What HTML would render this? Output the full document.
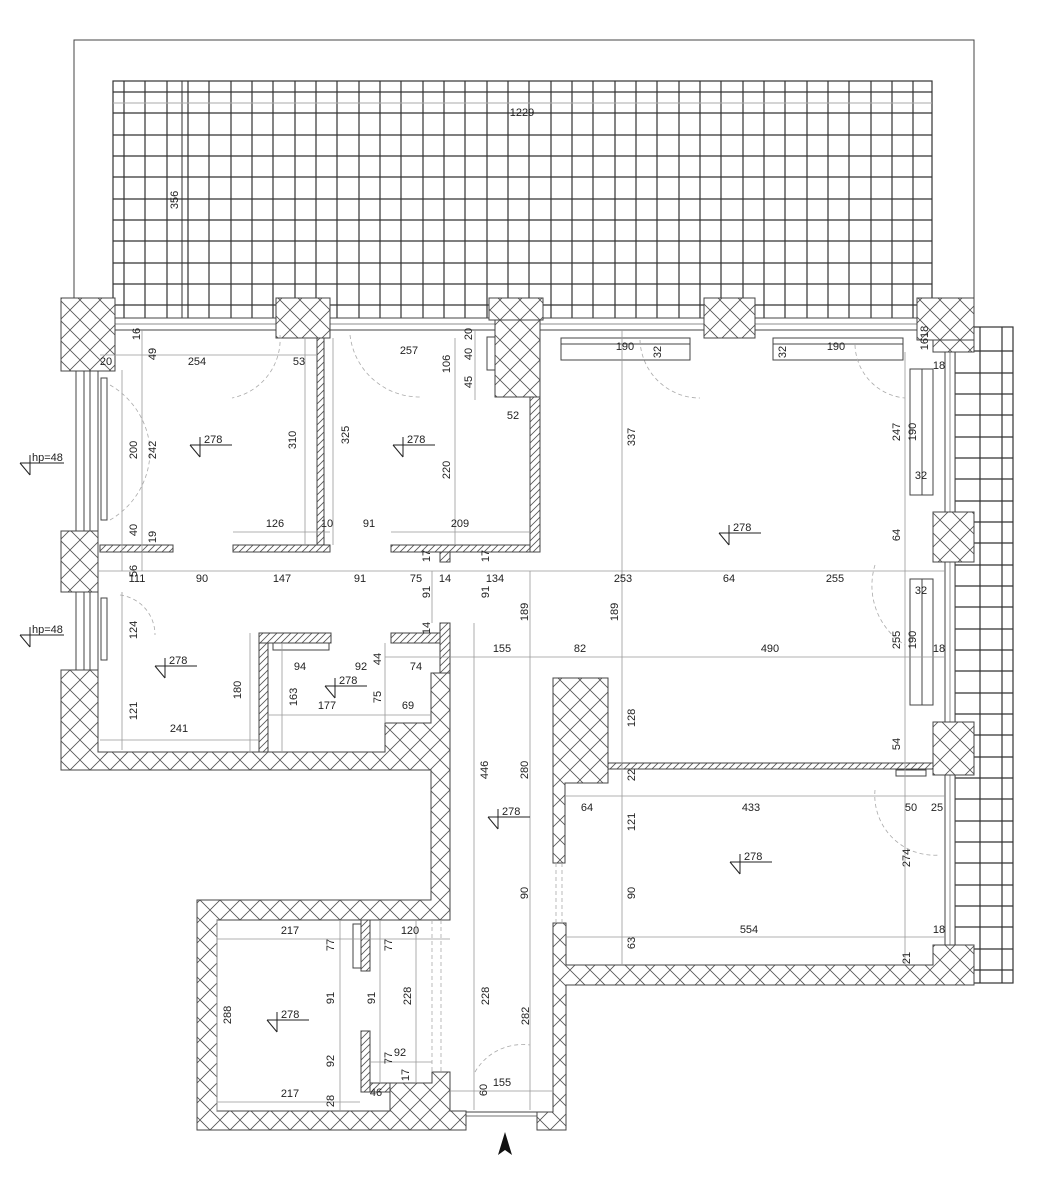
<!DOCTYPE html>
<html><head><meta charset="utf-8"><style>
html,body{margin:0;padding:0;background:#fff}
svg{display:block}
text{font-family:"Liberation Sans",sans-serif;font-size:11px;fill:#222}
.v{text-anchor:middle;dominant-baseline:central}
</style></head><body>
<svg width="1063" height="1200" viewBox="0 0 1063 1200" xmlns="http://www.w3.org/2000/svg">
<defs>
<pattern id="ch" width="20" height="20" patternUnits="userSpaceOnUse">
<rect width="20" height="20" fill="#fff"/>
<path d="M0,0L20,20M20,0L0,20" stroke="#555" stroke-width="0.8"/>
</pattern>
<pattern id="dh" width="7" height="7" patternUnits="userSpaceOnUse">
<rect width="7" height="7" fill="#fff"/>
<path d="M0,7L7,0M-2,2L2,-2M5,9L9,5" stroke="#555" stroke-width="0.8"/>
</pattern>
</defs>

<path d="M74,300V40H974V300" fill="none" stroke="#444" stroke-width="1"/>
<rect x="113" y="81" width="819" height="240" fill="#fff" stroke="#333" stroke-width="1.2"/>
<path stroke="#333" stroke-width="1.2" fill="none" d="M124,81V321M145,81V321M167,81V321M188,81V321M209,81V321M231,81V321M252,81V321M273,81V321M295,81V321M316,81V321M337,81V321M359,81V321M380,81V321M401,81V321M423,81V321M444,81V321M465,81V321M487,81V321M508,81V321M529,81V321M551,81V321M572,81V321M593,81V321M615,81V321M636,81V321M657,81V321M679,81V321M700,81V321M721,81V321M743,81V321M764,81V321M785,81V321M807,81V321M828,81V321M849,81V321M871,81V321M892,81V321M913,81V321
M113,92H932M113,113H932M113,135H932M113,156H932M113,177H932M113,199H932M113,220H932M113,241H932M113,263H932M113,284H932M113,305H932"/>
<line x1="182" y1="81" x2="182" y2="321" stroke="#333" stroke-width="1"/>
<line x1="113" y1="103" x2="932" y2="103" stroke="#aaa" stroke-width="1"/>
<rect x="955" y="327" width="58" height="656" fill="#fff" stroke="#333" stroke-width="1.2"/>
<path stroke="#333" stroke-width="1.2" fill="none" d="M980,327V983M1002,327V983
M955,351H1013M955,373H1013M955,394H1013M955,415H1013M955,437H1013M955,458H1013M955,479H1013M955,501H1013M955,522H1013M955,543H1013M955,565H1013M955,586H1013M955,607H1013M955,629H1013M955,650H1013M955,671H1013M955,693H1013M955,714H1013M955,735H1013M955,757H1013M955,778H1013M955,799H1013M955,821H1013M955,842H1013M955,863H1013M955,885H1013M955,906H1013M955,927H1013M955,949H1013M955,970H1013"/>

<rect x="98" y="318" width="820" height="12" fill="#fff" stroke="#444" stroke-width="1"/>
<line x1="98" y1="324" x2="918" y2="324" stroke="#666" stroke-width="0.7"/>
<rect x="76" y="371" width="22" height="160" fill="#fff" stroke="#444"/>
<line x1="84" y1="371" x2="84" y2="531" stroke="#444"/><line x1="90" y1="371" x2="90" y2="531" stroke="#444"/>
<rect x="76" y="592" width="22" height="78" fill="#fff" stroke="#444"/>
<line x1="84" y1="592" x2="84" y2="670" stroke="#444"/><line x1="90" y1="592" x2="90" y2="670" stroke="#444"/>
<rect x="945" y="352" width="10" height="593" fill="#fff" stroke="#444"/>
<line x1="950" y1="352" x2="950" y2="945" stroke="#666" stroke-width="0.7"/>

<g fill="url(#ch)" stroke="#444" stroke-width="1">
<rect x="61" y="298" width="54" height="73"/>
<rect x="61" y="531" width="37" height="61"/>
<rect x="276" y="298" width="54" height="40"/>
<rect x="489" y="298" width="54" height="22"/>
<rect x="495" y="320" width="45" height="77"/>
<rect x="704" y="298" width="51" height="40"/>
<rect x="917" y="298" width="57" height="42"/>
<rect x="933" y="340" width="41" height="12"/>
<rect x="933" y="512" width="41" height="50"/>
<rect x="933" y="722" width="41" height="53"/>
<path d="M61,670H98V752H385V723H431V673H450V920H217V1111H390V1083H432V1072H450V1111H466V1130H197V900H431V770H61Z"/>
<path d="M553,678H608V783H565V863H553Z"/>
<path d="M553,923H566V965H933V945H974V985H566V1130H537V1112H553Z"/>
</g>

<g fill="url(#dh)" stroke="#444" stroke-width="1">
<rect x="317" y="338" width="7" height="214"/>
<rect x="100" y="545" width="73" height="7"/>
<rect x="233" y="545" width="97" height="7"/>
<rect x="391" y="545" width="149" height="7"/>
<rect x="530" y="397" width="10" height="155"/>
<rect x="440" y="552" width="10" height="10"/>
<rect x="259" y="633" width="9" height="119"/>
<rect x="259" y="633" width="72" height="10"/>
<rect x="391" y="633" width="49" height="10"/>
<rect x="440" y="623" width="10" height="50"/>
<rect x="608" y="763" width="325" height="6"/>
<rect x="361" y="920" width="9" height="51"/>
<rect x="361" y="1031" width="9" height="61"/>
<rect x="370" y="1083" width="20" height="9"/>
</g>

<g fill="#fff" stroke="#444" stroke-width="1">
<rect x="561" y="338" width="129" height="22"/><line x1="561" y1="344" x2="690" y2="344"/>
<rect x="773" y="338" width="130" height="22"/><line x1="773" y1="344" x2="903" y2="344"/>
<rect x="910" y="369" width="23" height="126"/><line x1="922" y1="369" x2="922" y2="495"/>
<rect x="910" y="579" width="23" height="126"/><line x1="922" y1="579" x2="922" y2="705"/>
<rect x="101" y="378" width="6" height="142"/>
<rect x="101" y="598" width="6" height="62"/>
<rect x="487" y="337" width="8" height="33"/>
<rect x="273" y="643" width="56" height="7"/>
<rect x="353" y="924" width="8" height="44"/>
<rect x="896" y="770" width="30" height="6"/>
</g>

<g stroke="#999" stroke-width="0.8" fill="none">
<line x1="98" y1="571" x2="945" y2="571"/>
<line x1="385" y1="657" x2="945" y2="657"/>
<line x1="100" y1="355" x2="317" y2="355"/>
<line x1="100" y1="740" x2="259" y2="740"/>
<line x1="233" y1="532" x2="330" y2="532"/>
<line x1="391" y1="532" x2="530" y2="532"/>
<line x1="268" y1="715" x2="431" y2="715"/>
<line x1="566" y1="796" x2="945" y2="796"/>
<line x1="566" y1="937" x2="945" y2="937"/>
<line x1="217" y1="939" x2="450" y2="939"/>
<line x1="217" y1="1102" x2="360" y2="1102"/>
<line x1="450" y1="1091" x2="553" y2="1091"/>
<line x1="370" y1="1062" x2="432" y2="1062"/>
<line x1="142" y1="330" x2="142" y2="571"/>
<line x1="122" y1="370" x2="122" y2="571"/>
<line x1="305" y1="338" x2="305" y2="545"/>
<line x1="333" y1="338" x2="333" y2="545"/>
<line x1="455" y1="338" x2="455" y2="545"/>
<line x1="475" y1="330" x2="475" y2="400"/>
<line x1="622" y1="330" x2="622" y2="965"/>
<line x1="530" y1="571" x2="530" y2="1110"/>
<line x1="474" y1="623" x2="474" y2="1110"/>
<line x1="905" y1="352" x2="905" y2="965"/>
<line x1="432" y1="571" x2="432" y2="623"/>
<line x1="122" y1="592" x2="122" y2="750"/>
<line x1="250" y1="633" x2="250" y2="752"/>
<line x1="282" y1="643" x2="282" y2="752"/>
<line x1="385" y1="643" x2="385" y2="723"/>
<line x1="217" y1="920" x2="217" y2="1111"/>
<line x1="340" y1="920" x2="340" y2="1111"/>
<line x1="380" y1="920" x2="380" y2="1083"/>
<line x1="416" y1="920" x2="416" y2="1083"/>
</g>
<g stroke="#aaa" stroke-width="0.8" stroke-dasharray="4,3" fill="none">
<line x1="556" y1="863" x2="556" y2="923"/><line x1="562" y1="863" x2="562" y2="923"/>
<line x1="432" y1="920" x2="432" y2="1072"/><line x1="441" y1="920" x2="441" y2="1072"/>
<path d="M280,335 A60,60 0 0 1 232,398"/>
<path d="M110,385 A80,80 0 0 1 150,460"/>
<path d="M110,520 A80,80 0 0 0 150,450"/>
<path d="M120,595 A40,40 0 0 1 155,635"/>
<path d="M350,335 A70,70 0 0 0 420,397"/>
<path d="M640,340 A60,60 0 0 0 700,398"/>
<path d="M855,345 A55,55 0 0 0 905,398"/>
<path d="M875,565 A70,70 0 0 0 905,645"/>
<path d="M875,790 A60,60 0 0 0 940,855"/>
<path d="M475,1072 A55,55 0 0 1 530,1045"/>
</g>

<g stroke="#222" stroke-width="1" fill="none">
<path d="M190,445H232M200,437V457M190,445L200,457"/>
<path d="M393,445H435M403,437V457M393,445L403,457"/>
<path d="M719,533H761M729,525V545M719,533L729,545"/>
<path d="M155,666H197M165,658V678M155,666L165,678"/>
<path d="M325,686H367M335,678V698M325,686L335,698"/>
<path d="M488,817H530M498,809V829M488,817L498,829"/>
<path d="M730,862H772M740,854V874M730,862L740,874"/>
<path d="M267,1020H309M277,1012V1032M267,1020L277,1032"/>
<path d="M20,463H64M30,455V475M20,463L30,475"/>
<path d="M20,635H64M30,627V647M20,635L30,647"/>
</g>
<g>
<text x="204" y="443">278</text><text x="407" y="443">278</text><text x="733" y="531">278</text>
<text x="169" y="664">278</text><text x="339" y="684">278</text><text x="502" y="815">278</text>
<text x="744" y="860">278</text><text x="281" y="1018">278</text>
<text x="32" y="461">hp=48</text><text x="32" y="633">hp=48</text>
</g>

<g>
<text class="v" x="522" y="113">1229</text>
<text class="v" x="106" y="362">20</text><text class="v" x="197" y="362">254</text><text class="v" x="299" y="362">53</text>
<text class="v" x="409" y="351">257</text><text class="v" x="513" y="416">52</text>
<text class="v" x="625" y="347">190</text><text class="v" x="836" y="347">190</text>
<text class="v" x="939" y="366">18</text>
<text class="v" x="275" y="524">126</text><text class="v" x="327" y="524">10</text>
<text class="v" x="369" y="524">91</text><text class="v" x="460" y="524">209</text>
<text class="v" x="137" y="579">111</text><text class="v" x="202" y="579">90</text><text class="v" x="282" y="579">147</text>
<text class="v" x="360" y="579">91</text><text class="v" x="416" y="579">75</text><text class="v" x="445" y="579">14</text>
<text class="v" x="495" y="579">134</text><text class="v" x="623" y="579">253</text><text class="v" x="729" y="579">64</text>
<text class="v" x="835" y="579">255</text>
<text class="v" x="921" y="476">32</text><text class="v" x="921" y="591">32</text><text class="v" x="939" y="649">18</text>
<text class="v" x="502" y="649">155</text><text class="v" x="580" y="649">82</text><text class="v" x="770" y="649">490</text>
<text class="v" x="300" y="667">94</text><text class="v" x="361" y="667">92</text><text class="v" x="416" y="667">74</text>
<text class="v" x="327" y="706">177</text><text class="v" x="408" y="706">69</text><text class="v" x="179" y="729">241</text>
<text class="v" x="587" y="808">64</text><text class="v" x="751" y="808">433</text><text class="v" x="911" y="808">50</text><text class="v" x="937" y="808">25</text>
<text class="v" x="749" y="930">554</text><text class="v" x="939" y="930">18</text>
<text class="v" x="290" y="931">217</text><text class="v" x="410" y="931">120</text>
<text class="v" x="400" y="1053">92</text><text class="v" x="290" y="1094">217</text><text class="v" x="376" y="1093">46</text>
<text class="v" x="502" y="1083">155</text>
</g>

<g>
<text class="v" transform="translate(175,200) rotate(-90)">356</text>
<text class="v" transform="translate(137,334) rotate(-90)">16</text>
<text class="v" transform="translate(153,354) rotate(-90)">49</text>
<text class="v" transform="translate(134,450) rotate(-90)">200</text>
<text class="v" transform="translate(153,450) rotate(-90)">242</text>
<text class="v" transform="translate(293,440) rotate(-90)">310</text>
<text class="v" transform="translate(134,530) rotate(-90)">40</text>
<text class="v" transform="translate(153,537) rotate(-90)">19</text>
<text class="v" transform="translate(134,571) rotate(-90)">56</text>
<text class="v" transform="translate(469,334) rotate(-90)">20</text>
<text class="v" transform="translate(469,354) rotate(-90)">40</text>
<text class="v" transform="translate(447,364) rotate(-90)">106</text>
<text class="v" transform="translate(469,382) rotate(-90)">45</text>
<text class="v" transform="translate(346,435) rotate(-90)">325</text>
<text class="v" transform="translate(447,470) rotate(-90)">220</text>
<text class="v" transform="translate(427,556) rotate(-90)">17</text>
<text class="v" transform="translate(486,556) rotate(-90)">17</text>
<text class="v" transform="translate(658,352) rotate(-90)">32</text>
<text class="v" transform="translate(783,352) rotate(-90)">32</text>
<text class="v" transform="translate(925,338) rotate(-90)">1618</text>
<text class="v" transform="translate(632,437) rotate(-90)">337</text>
<text class="v" transform="translate(897,432) rotate(-90)">247</text>
<text class="v" transform="translate(913,432) rotate(-90)">190</text>
<text class="v" transform="translate(897,535) rotate(-90)">64</text>
<text class="v" transform="translate(897,640) rotate(-90)">255</text>
<text class="v" transform="translate(913,640) rotate(-90)">190</text>
<text class="v" transform="translate(897,744) rotate(-90)">54</text>
<text class="v" transform="translate(427,592) rotate(-90)">91</text>
<text class="v" transform="translate(486,592) rotate(-90)">91</text>
<text class="v" transform="translate(525,612) rotate(-90)">189</text>
<text class="v" transform="translate(615,612) rotate(-90)">189</text>
<text class="v" transform="translate(427,628) rotate(-90)">14</text>
<text class="v" transform="translate(632,718) rotate(-90)">128</text>
<text class="v" transform="translate(525,770) rotate(-90)">280</text>
<text class="v" transform="translate(485,770) rotate(-90)">446</text>
<text class="v" transform="translate(632,775) rotate(-90)">22</text>
<text class="v" transform="translate(632,822) rotate(-90)">121</text>
<text class="v" transform="translate(907,858) rotate(-90)">274</text>
<text class="v" transform="translate(525,893) rotate(-90)">90</text>
<text class="v" transform="translate(632,893) rotate(-90)">90</text>
<text class="v" transform="translate(632,943) rotate(-90)">63</text>
<text class="v" transform="translate(907,958) rotate(-90)">21</text>
<text class="v" transform="translate(134,630) rotate(-90)">124</text>
<text class="v" transform="translate(134,711) rotate(-90)">121</text>
<text class="v" transform="translate(238,690) rotate(-90)">180</text>
<text class="v" transform="translate(378,659) rotate(-90)">44</text>
<text class="v" transform="translate(294,697) rotate(-90)">163</text>
<text class="v" transform="translate(378,697) rotate(-90)">75</text>
<text class="v" transform="translate(331,945) rotate(-90)">77</text>
<text class="v" transform="translate(389,945) rotate(-90)">77</text>
<text class="v" transform="translate(228,1015) rotate(-90)">288</text>
<text class="v" transform="translate(331,998) rotate(-90)">91</text>
<text class="v" transform="translate(372,998) rotate(-90)">91</text>
<text class="v" transform="translate(408,996) rotate(-90)">228</text>
<text class="v" transform="translate(486,996) rotate(-90)">228</text>
<text class="v" transform="translate(526,1016) rotate(-90)">282</text>
<text class="v" transform="translate(331,1061) rotate(-90)">92</text>
<text class="v" transform="translate(389,1058) rotate(-90)">77</text>
<text class="v" transform="translate(406,1075) rotate(-90)">17</text>
<text class="v" transform="translate(331,1101) rotate(-90)">28</text>
<text class="v" transform="translate(484,1090) rotate(-90)">60</text>
</g>

<path d="M466,1112H537" stroke="#444" stroke-width="1"/>
<path d="M466,1116H537" stroke="#444" stroke-width="0.8"/>
<path d="M505,1132L498,1155L505,1150L512,1155Z" fill="#111"/>
</svg>
</body></html>
